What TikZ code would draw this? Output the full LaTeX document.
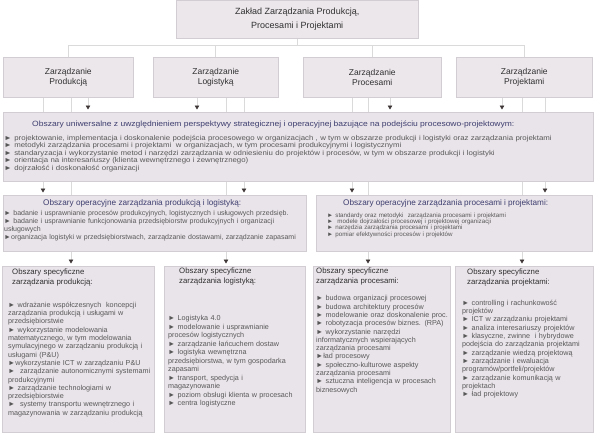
\documentclass[tikz,border=0pt]{standalone}
\usepackage{fontspec}
\setmainfont{Liberation Sans}
\newfontfamily\widefont{Liberation Sans}[FakeStretch=1.12]
\usetikzlibrary{arrows.meta,positioning}
\definecolor{boxfill}{RGB}{233,228,233}
\definecolor{headfill}{RGB}{236,231,235}
\definecolor{boxline}{RGB}{210,205,210}
\definecolor{linkgray}{RGB}{218,218,218}
\definecolor{tipdark}{RGB}{62,54,54}
\definecolor{navy}{RGB}{62,62,112}
\definecolor{bodygray}{RGB}{88,88,88}
\definecolor{headgray}{RGB}{48,48,48}
\pgfdeclarelayer{background}
\pgfsetlayers{background,main}

\begin{document}
\begin{tikzpicture}[x=1pt, y=-1pt,
  headbox/.style={draw=boxline, fill=headfill, line width=0.5pt, anchor=north west,
    inner sep=0pt, align=center, text=headgray, font=\fontsize{8.5}{10.5}\selectfont},
  areabox/.style={draw=boxline, fill=boxfill, line width=0.5pt, anchor=north west,
    inner sep=0pt},
  areatext/.style={inner sep=0pt, anchor=north west, align=left, text width=320pt,
    text=bodygray, font=\fontsize{7.2}{8.3}\selectfont},
  link/.style={draw=linkgray, line width=0.6pt},
  feed/.style={link, -{Triangle[width=4.5pt, length=4pt, color=tipdark]}, shorten >=2.5pt}]
  \useasboundingbox (0,0) rectangle (600,434);

  % head and units
  \node[headbox, minimum width=242pt, minimum height=38pt,
        font=\fontsize{9}{14}\selectfont] (zak) at (176,0)
        {Zakład Zarządzania Produkcją,\\Procesami i Projektami};
  \node[headbox, minimum width=130pt, minimum height=40pt] (prod) at (3,57)   {Zarządzanie\\Produkcją};
  \node[headbox, minimum width=125pt, minimum height=40pt] (log)  at (153,57) {Zarządzanie\\Logistyką};
  \node[headbox, minimum width=138pt, minimum height=40pt] (proc) at (303,57) {Zarządzanie\\Procesami};
  \node[headbox, minimum width=136pt, minimum height=40pt] (proj) at (456,57) {Zarządzanie\\Projektami};

  % universal areas
  \node[areabox, minimum width=590pt, minimum height=69pt] (uni) at (3,112) {};
  \node[areatext, text width=600pt, below right=9pt and 1pt of uni.north west,
        font=\widefont\fontsize{7}{7.4}\selectfont] (unitxt)
  {{\color{navy}\fontsize{7.6}{9}\selectfont\hspace*{28pt}Obszary uniwersalne z uwzględnieniem perspektywy strategicznej i operacyjnej bazujące na podejściu procesowo-projektowym:\par}
   \vspace{6.4pt}
   ► projektowanie, implementacja i doskonalenie podejścia procesowego w organizacjach , w tym w obszarze produkcji i logistyki oraz zarządzania projektami\\
   ► metodyki zarządzania procesami i projektami \ w organizacjach, w tym procesami produkcyjnymi i logistycznymi\\
   ► standaryzacja i wykorzystanie metod i narzędzi zarządzania w odniesieniu do projektów i procesów, w tym w obszarze produkcji i logistyki\\
   ► orientacja na interesariuszy (klienta wewnętrznego i zewnętrznego)\\
   ► dojrzałość i doskonałość organizacji};

  % operational areas
  \node[areabox, minimum width=303pt, minimum height=56pt] (opl) at (3,195) {};
  \node[areatext, below right=4.7pt and 1pt of opl.north west,
        font=\fontsize{7}{8}\selectfont] (opltxt)
  {{\color{navy}\fontsize{8.2}{9}\selectfont\hspace*{39pt}Obszary operacyjne zarządzania produkcją i logistyką:\par}
   \vspace{2pt}
   ► badanie i usprawnianie procesów produkcyjnych, logistycznych i usługowych przedsięb.\\
   ► badanie i usprawnianie funkcjonowania przedsiębiorstw produkcyjnych i organizacji\\
   usługowych\\
   ►organizacja logistyki w przedsiębiorstwach, zarządzanie dostawami, zarządzanie zapasami};

  \node[areabox, minimum width=276pt, minimum height=56pt] (opr) at (316,195) {};
  \node[areatext, below right=4pt and 11pt of opr.north west,
        font=\fontsize{6.2}{6.1}\selectfont] (oprtxt)
  {{\color{navy}\fontsize{8.2}{9}\selectfont\hspace*{16pt}Obszary operacyjne zarządzania procesami i projektami:\par}
   \vspace{5.4pt}
   ► standardy oraz metodyki \ zarządzania procesami i projektami\\
   ► \ modele dojrzałości procesowej i projektowej organizacji\\
   ► narzędzia zarządzania procesami i projektami\\
   ► pomiar efektywności procesów i projektów};

  % specific areas
  \node[areabox, minimum width=152pt, minimum height=166pt] (spa) at (2,266) {};
  \node[areatext, below right=2.5pt and 6pt of spa.north west] (spatxt)
  {{\color{headgray}\fontsize{7.8}{10}\selectfont\hspace*{4pt}Obszary specyficzne\\\hspace*{4pt}zarządzania produkcją:\par}
   \vspace{14.7pt}
   ► wdrażanie współczesnych \ koncepcji\\
   zarządzania produkcją i usługami w\\
   przedsiębiorstwie\\
   ► wykorzystanie modelowania\\
   matematycznego, w tym modelowania\\
   symulacyjnego w zarządzaniu produkcją i\\
   usługami (P\&U)\\
   ►wykorzystanie ICT w zarządzaniu P\&U\\
   ► \ zarządzanie autonomicznymi systemami\\
   produkcyjnymi\\
   ► zarządzanie technologiami w\\
   przedsiębiorstwie\\
   ► \ systemy transportu wewnętrznego i\\
   magazynowania w zarządzaniu produkcją};

  \node[areabox, minimum width=141pt, minimum height=166pt] (spb) at (164,266) {};
  \node[areatext, below right=2pt and 4pt of spb.north west,
        font=\fontsize{7.2}{8.5}\selectfont] (spbtxt)
  {{\color{headgray}\fontsize{7.8}{10}\selectfont\hspace*{11pt}Obszary specyficzne\\\hspace*{11pt}zarządzania logistyką:\par}
   \vspace{28.5pt}
   ► Logistyka 4.0\\
   ► modelowanie i usprawnianie\\
   procesów logistycznych\\
   ► zarządzanie łańcuchem dostaw\\
   ► logistyka wewnętrzna\\
   przedsiębiorstwa, w tym gospodarka\\
   zapasami\\
   ► transport, spedycja i\\
   magazynowanie\\
   ► poziom obsługi klienta w procesach\\
   ► centra logistyczne};

  \node[areabox, minimum width=137pt, minimum height=166pt] (spc) at (313,266) {};
  \node[areatext, below right=2pt and 3pt of spc.north west] (spctxt)
  {{\color{headgray}\fontsize{7.8}{10}\selectfont Obszary specyficzne\\zarządzania procesami:\par}
   \vspace{8.7pt}
   ► budowa organizacji procesowej\\
   ► budowa architektury procesów\\
   ► modelowanie oraz doskonalenie proc.\\
   ► robotyzacja procesów biznes. (RPA)\\
   ► wykorzystanie narzędzi\\
   informatycznych wspierających\\
   zarządzania procesami\\
   ►ład procesowy\\
   ► społeczno-kulturowe aspekty\\
   zarządzania procesami\\
   ► sztuczna inteligencja w procesach\\
   biznesowych};

  \node[areabox, minimum width=138pt, minimum height=166pt] (spd) at (455,266) {};
  \node[areatext, below right=2.5pt and 7pt of spd.north west] (spdtxt)
  {{\color{headgray}\fontsize{7.8}{10}\selectfont\hspace*{5pt}Obszary specyficzne\\\hspace*{5pt}zarządzania projektami:\par}
   \vspace{12.7pt}
   ► controlling i rachunkowość\\
   projektów\\
   ► ICT w zarządzaniu projektami\\
   ► analiza interesariuszy projektów\\
   ► klasyczne, zwinne \ i hybrydowe\\
   podejścia do zarządzania projektami\\
   ► zarządzanie wiedzą projektową\\
   ► zarządzanie i ewaluacja\\
   programów/portfeli/projektów\\
   ► zarządzanie komunikacją w\\
   projektach\\
   ► ład projektowy};

  \begin{pgfonlayer}{background}
    \fill[white] (0,0) rectangle (600,434);
    % bus from the head
    \coordinate (bus) at ([yshift=-7pt]zak.south);
    \foreach \unit in {prod,log,proc,proj}
      \draw[link] (zak.south) -- (bus) -| (\unit.north);
    % Produkcja
    \draw[feed] (prod.south -| 88,0) -- (uni.north -| 88,0);
    \draw[feed] (prod.south -| 43,0) -- (opl.north -| 43,0);
    \draw[feed] (prod.south -| 71,0) -- (spa.north -| 71,0);
    % Logistyka
    \draw[feed] (log.south -| 197,0) -- (uni.north -| 197,0);
    \draw[feed] (log.south -| 244,0) -- (opl.north -| 244,0);
    \draw[feed] (log.south -| 226,0) -- (spb.north -| 226,0);
    % Procesy
    \draw[feed] (proc.south -| 390,0) -- (uni.north -| 390,0);
    \draw[feed] (proc.south -| 352,0) -- (opr.north -| 352,0);
    \draw[feed] (proc.south -| 368,0) -- (spc.north -| 368,0);
    % Projekty
    \draw[feed] (proj.south -| 502,0) -- (uni.north -| 502,0);
    \draw[feed] (proj.south -| 545,0) -- (opr.north -| 545,0);
    \draw[feed] (proj.south -| 522,0) -- (spd.north -| 522,0);
  \end{pgfonlayer}
\end{tikzpicture}
\end{document}
